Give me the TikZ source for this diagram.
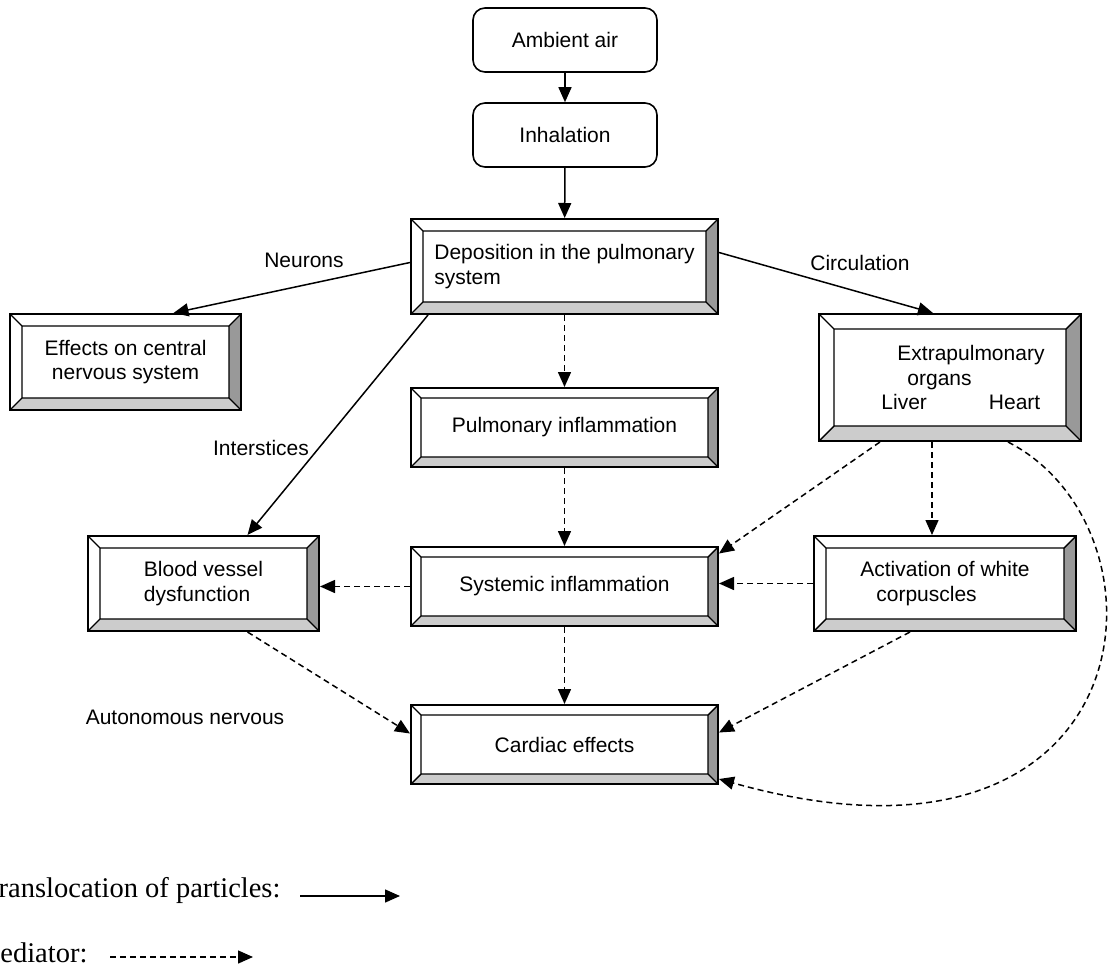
\documentclass[tikz,border=0pt]{standalone}
\usepackage{fontspec}
\setmainfont{Liberation Serif}
\setsansfont{Liberation Sans}
\usetikzlibrary{arrows.meta}

\definecolor{bevellight}{HTML}{CCCCCC}
\definecolor{beveldark}{HTML}{999999}
\newcommand{\boxfont}{\sffamily\fontsize{21}{24.5}\selectfont}
\newcommand{\legendfont}{\rmfamily\fontsize{28.5}{32}\selectfont}

\tikzset{
  bevel/.store in=\bvl, bevel=12pt,
  framebox/.style={draw, line width=2pt, inner sep=0pt, font=\boxfont,
    path picture={
      \coordinate (sw) at (path picture bounding box.south west);
      \coordinate (se) at (path picture bounding box.south east);
      \coordinate (ne) at (path picture bounding box.north east);
      \coordinate (nw) at (path picture bounding box.north west);
      \fill[bevellight] (sw) -- (se) -- ([shift={(-\bvl,\bvl)}]se) -- ([shift={(\bvl,\bvl)}]sw) -- cycle;
      \fill[beveldark] (se) -- (ne) -- ([shift={(-\bvl,-\bvl)}]ne) -- ([shift={(-\bvl,\bvl)}]se) -- cycle;
      \draw[line width=1.4pt] ([shift={(\bvl,\bvl)}]sw) rectangle ([shift={(-\bvl,-\bvl)}]ne)
        (sw) -- ++(\bvl,\bvl) (se) -- ++(-\bvl,\bvl)
        (ne) -- ++(-\bvl,-\bvl) (nw) -- ++(\bvl,-\bvl);
    }},
  roundbox/.style={draw, line width=1.6pt, rounded corners=12pt, font=\boxfont,
    minimum width=184pt, minimum height=64pt},
  pathlabel/.style={font=\boxfont},
  translocation/.style={-{Triangle[length=15pt,width=13pt]}, line width=1.5pt},
  mediator/.style={translocation, dash pattern=on 6pt off 4pt},
}

\begin{document}
\begin{tikzpicture}[x=1pt, y=-1pt]
  \useasboundingbox (0,0) rectangle (1112,969);

  % boxes
  \node[roundbox] (air) at (565, 40) {Ambient air};
  \node[roundbox] (inhal) at (565, 135) {Inhalation};
  \node[framebox, align=left, minimum width=307pt, minimum height=95pt] (dep) at (564.5, 266.5)
    {Deposition in the pulmonary\\system};
  \node[framebox, align=center, minimum width=231pt, minimum height=96pt] (cns) at (125.5, 362)
    {Effects on central\\nervous system};
  \node[framebox, bevel=15pt, align=left, minimum width=262pt, minimum height=127pt] (extra) at (950, 377.5)
    {\hspace*{42pt}Extrapulmonary\\\hspace*{52pt}organs\\\hspace*{26pt}Liver\hspace{62pt}Heart};
  \node[framebox, bevel=10pt, minimum width=307pt, minimum height=79pt] (pulinf) at (564.5, 427.5)
    {Pulmonary inflammation};
  \node[framebox, bevel=10pt, minimum width=307pt, minimum height=79pt] (sysinf) at (564.5, 586.5)
    {Systemic inflammation};
  \node[framebox, align=left, minimum width=231pt, minimum height=95pt] (blood) at (203.5, 583.5)
    {Blood vessel\\dysfunction};
  \node[framebox, align=left, minimum width=262pt, minimum height=95pt] (white) at (945, 583.5)
    {Activation of white\\\hspace*{16pt}corpuscles};
  \node[framebox, bevel=10pt, minimum width=307pt, minimum height=79pt] (cardiac) at (564.5, 744.5)
    {Cardiac effects};

  % route labels
  \node[pathlabel] (neurons) at (304, 260) {Neurons};
  \node[pathlabel] (circ) at (860, 263) {Circulation};
  \node[pathlabel] (inter) at (261, 448) {Interstices};
  \node[pathlabel] (auto) at (185, 717) {Autonomous nervous};

  % translocation
  \draw[translocation] (air) -- (inhal);
  \draw[translocation] (inhal) -- (dep);
  \draw[translocation] ([yshift=4pt]dep.west) -- ([xshift=48pt]cns.north);
  \draw[translocation] ([yshift=14pt]dep.east) -- ([xshift=-17pt]extra.north);
  \draw[translocation] ([xshift=18pt]dep.south west) -- ([xshift=44pt]blood.north);

  % mediators
  \draw[mediator] (dep) -- (pulinf);
  \draw[mediator] (pulinf) -- (sysinf);
  \draw[mediator] (sysinf) -- (cardiac);
  \draw[mediator] ([xshift=-18pt]extra.south) -- ([xshift=-13pt]white.north);
  \draw[mediator] ([xshift=-70pt]extra.south) -- ([yshift=33pt]sysinf.east);
  \draw[mediator] (white.west) -- (white.west -| sysinf.east);
  \draw[mediator] (sysinf.west) -- (sysinf.west -| blood.east);
  \draw[mediator] ([xshift=44pt]blood.south) -- ([yshift=11pt]cardiac.west);
  \draw[mediator] ([xshift=-35pt]white.south) -- ([yshift=12pt]cardiac.east);
  \draw[mediator] ([xshift=-74pt]extra.south east) .. controls (1180, 530) and (1150, 900) .. ([yshift=6pt]cardiac.south east);

  % legend
  \node[font=\legendfont, anchor=base east] (legtrans) at (284, 897) {Translocation of particles:};
  \node[font=\legendfont, anchor=base east] (legmed) at (91, 962) {Mediator:};
  \coordinate (ta) at (300, 896);
  \coordinate (tb) at (400, 896);
  \coordinate (ma) at (110, 957);
  \coordinate (mb) at (253, 957);
  \draw[translocation] (ta) -- (tb);
  \draw[mediator] (ma) -- (mb);
\end{tikzpicture}
\end{document}
